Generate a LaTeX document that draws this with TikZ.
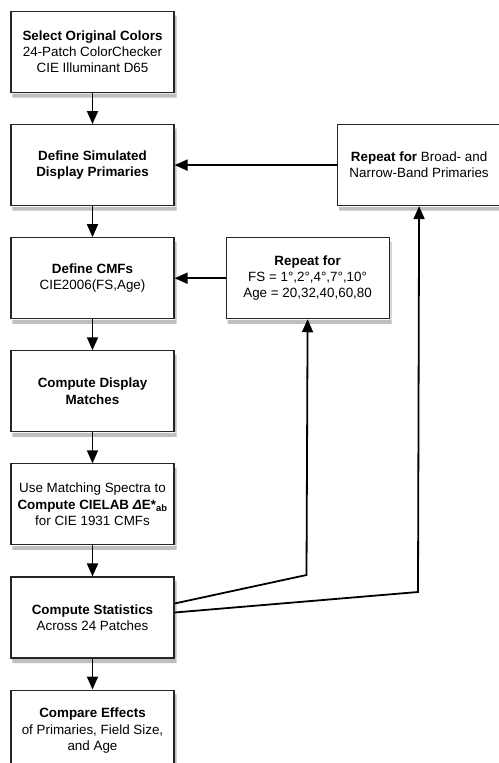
\documentclass[tikz,border=0pt]{standalone}
\usepackage{fontspec}
\setmainfont{Liberation Sans}
\usetikzlibrary{arrows.meta}
\usetikzlibrary{positioning}
\tikzset{
    box/.style={
        draw=black!85,
        line width=1.1pt,
        fill=white,
        minimum width=163pt,
        minimum height=81pt,
        inner sep=2pt,
        align=center,
        font=\fontsize{13.4}{16.2}\selectfont
    },
    shade/.style={fill=black!25},
    flow/.style={
        draw,
        line width=1.8pt,
        -{Triangle[length=13pt, width=11pt]}
    }
}

\begin{document}
\begin{tikzpicture}[x=1pt, y=-1pt]
  \useasboundingbox (0,0) rectangle (498,763);

  % Main column
  \node[box] (sel) at (92.5,52) {\textbf{Select Original Colors}\\24-Patch ColorChecker\\CIE Illuminant D65};
  \node[box, below=31pt of sel] (sim) {\textbf{Define Simulated}\\\textbf{Display Primaries}};
  \node[box, below=31pt of sim] (cmf) {\textbf{Define CMFs}\\CIE2006(FS,Age)};
  \node[box, below=31pt of cmf] (match) {\textbf{Compute Display}\\\textbf{Matches}};
  \node[box, below=31pt of match] (lab) {Use Matching Spectra to\\\textbf{Compute CIELAB \textit{Δ}E*\textsubscript{ab}}\\for CIE 1931 CMFs};
  \node[box, below=31pt of lab] (stat) {\textbf{Compute Statistics}\\Across 24 Patches};
  \node[box, below=31pt of stat] (cmp) {\textbf{Compare Effects}\\of Primaries, Field Size,\\and Age};

  % Repeat loops
  \node[box, right=162.5pt of sim] (rep1) {\textbf{Repeat for} Broad- and\\Narrow-Band Primaries};
  \node[box, right=51pt of cmf] (rep2) {\textbf{Repeat for}\\FS = 1°,2°,4°,7°,10°\\Age = 20,32,40,60,80};

  % Shadows (strips below and right of each box)
  \fill[shade] ([xshift=2pt,yshift=-0.6pt]sel.south west) rectangle ([xshift=2pt,yshift=-4.5pt]sel.south east) ([xshift=0.6pt,yshift=-4.5pt]sel.north east) rectangle ([xshift=2pt]sel.south east);
  \fill[shade] ([xshift=2pt,yshift=-0.6pt]sim.south west) rectangle ([xshift=2pt,yshift=-4.5pt]sim.south east) ([xshift=0.6pt,yshift=-4.5pt]sim.north east) rectangle ([xshift=2pt]sim.south east);
  \fill[shade] ([xshift=2pt,yshift=-0.6pt]cmf.south west) rectangle ([xshift=2pt,yshift=-4.5pt]cmf.south east) ([xshift=0.6pt,yshift=-4.5pt]cmf.north east) rectangle ([xshift=2pt]cmf.south east);
  \fill[shade] ([xshift=2pt,yshift=-0.6pt]match.south west) rectangle ([xshift=2pt,yshift=-4.5pt]match.south east) ([xshift=0.6pt,yshift=-4.5pt]match.north east) rectangle ([xshift=2pt]match.south east);
  \fill[shade] ([xshift=2pt,yshift=-0.6pt]lab.south west) rectangle ([xshift=2pt,yshift=-4.5pt]lab.south east) ([xshift=0.6pt,yshift=-4.5pt]lab.north east) rectangle ([xshift=2pt]lab.south east);
  \fill[shade] ([xshift=2pt,yshift=-0.6pt]stat.south west) rectangle ([xshift=2pt,yshift=-4.5pt]stat.south east) ([xshift=0.6pt,yshift=-4.5pt]stat.north east) rectangle ([xshift=2pt]stat.south east);
  \fill[shade] ([xshift=2pt,yshift=-0.6pt]cmp.south west) rectangle ([xshift=2pt,yshift=-4.5pt]cmp.south east) ([xshift=0.6pt,yshift=-4.5pt]cmp.north east) rectangle ([xshift=2pt]cmp.south east);
  \fill[shade] ([xshift=2pt,yshift=-0.6pt]rep1.south west) rectangle ([xshift=2pt,yshift=-4.5pt]rep1.south east) ([xshift=0.6pt,yshift=-4.5pt]rep1.north east) rectangle ([xshift=2pt]rep1.south east);
  \fill[shade] ([xshift=2pt,yshift=-0.6pt]rep2.south west) rectangle ([xshift=2pt,yshift=-4.5pt]rep2.south east) ([xshift=0.6pt,yshift=-4.5pt]rep2.north east) rectangle ([xshift=2pt]rep2.south east);

  % Bends
  \coordinate (bend1) at (306.5,575);
  \coordinate (bend2) at (418,592);

  % Arrows
  \draw[flow] (sel) -- (sim);
  \draw[flow] (sim) -- (cmf);
  \draw[flow] (cmf) -- (match);
  \draw[flow] (match) -- (lab);
  \draw[flow] (lab) -- (stat);
  \draw[flow] (stat) -- (cmp);
  \draw[flow] (rep1) -- (sim);
  \draw[flow] (rep2) -- (cmf);
  \draw[flow] ([yshift=14pt]stat.east) -- (bend1) -- (rep2.south);
  \draw[flow] ([yshift=5pt]stat.east) -- (bend2) -- (rep1.south);
\end{tikzpicture}
\end{document}
